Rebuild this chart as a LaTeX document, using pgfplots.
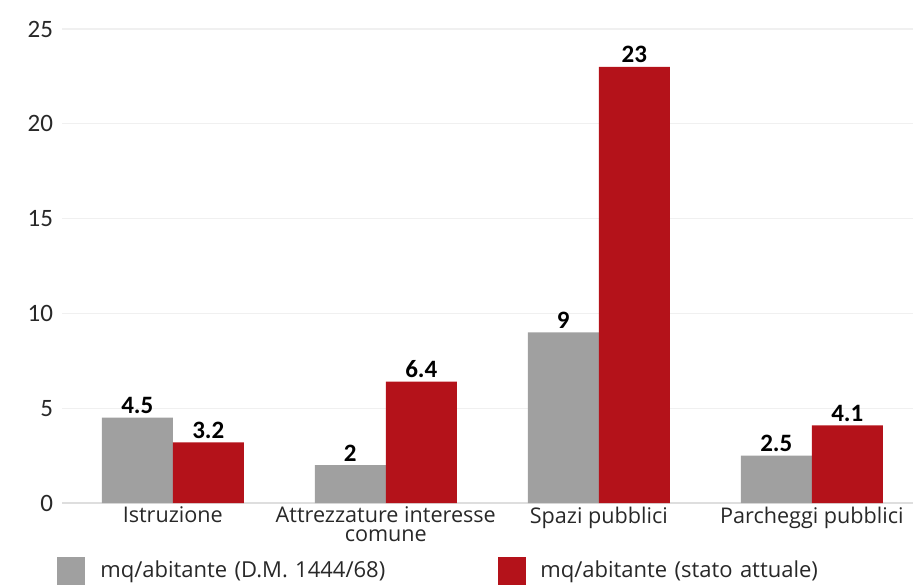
\documentclass[border=0pt]{standalone}
\usepackage{pgfplots}
\pgfplotsset{compat=1.18}
\usepackage{fontspec}
\setmainfont{Open Sans}
\newfontfamily\calibri{Carlito}

\definecolor{barGray}{RGB}{160,160,160}
\definecolor{barRed}{RGB}{180,18,26}
\definecolor{gridGray}{RGB}{240,240,240}
\definecolor{baseGray}{RGB}{222,222,222}
\definecolor{txt}{RGB}{40,40,40}

\begin{document}
\begin{tikzpicture}
\begin{axis}[
  at={(0,0)}, anchor=south west,
  scale only axis,
  width=425.5pt, height=237pt,
  ymin=0, ymax=25,
  xmin=-0.52, xmax=3.475,
  ytick={0,5,10,15,20,25},
  xtick={0,1,2,3},
  xticklabels={Istruzione,{Attrezzature interesse\\[-3.6pt]comune},Spazi pubblici,Parcheggi pubblici},
  axis line style={draw=none},
  major tick length=0pt,
  ymajorgrids, grid style={gridGray, line width=0.6pt},
  ybar=0pt, bar width=35.5pt,
  /pgf/number format/assume math mode=true,
  yticklabel style={font=\calibri\fontsize{12.5pt}{14pt}\selectfont, text=txt, xshift=-1pt},
  xticklabel style={font=\fontsize{10.8pt}{13pt}\selectfont, text=txt, align=center, anchor=north, yshift=1.5pt},
  nodes near coords,
  nodes near coords style={font=\calibri\bfseries\fontsize{12.5pt}{14pt}\selectfont, text=black, yshift=-1.5pt},
  legend columns=2,
  legend style={draw=none, fill=none, inner sep=0pt,
    at={(-0.0059,-0.1435)}, anchor=west,
    font=\fontsize{11pt}{13pt}\selectfont, text=txt,
    nodes={inner sep=0pt, text width=199pt},
    /tikz/column 1/.style={column sep=7.5pt},
    /tikz/column 3/.style={column sep=7pt}},
  legend image code/.code={\fill[#1,draw=none] (0pt,-7pt) rectangle (14pt,7pt);},
]
\draw[baseGray, line width=0.6pt] (axis cs:-0.52,0) -- (axis cs:3.475,0);
\addplot[fill=barGray, draw=none] coordinates {(0,4.5) (1,2) (2,9) (3,2.5)};
\addplot[fill=barRed, draw=none] coordinates {(0,3.2) (1,6.4) (2,23) (3,4.1)};
\legend{mq/abitante (D.M. 1444/68),mq/abitante (stato attuale)}
\end{axis}
\pgfresetboundingbox
\path[use as bounding box] (-31pt,-42pt) rectangle (425.5pt,251.5pt);
\end{tikzpicture}
\end{document}
